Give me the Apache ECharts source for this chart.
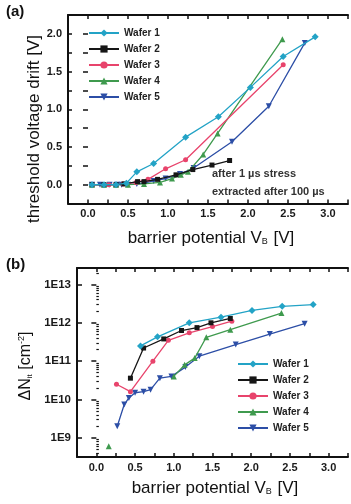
<!DOCTYPE html>
<html><head><meta charset="utf-8">
<script src="https://cdn.jsdelivr.net/npm/echarts@6/dist/echarts.min.js"></script>
<style>html,body{margin:0;padding:0;background:#fff}#c{width:351px;height:504px}</style>
</head><body><div id="c"></div>
<script>
// ---- shared ----
const waferNames = ['Wafer 1', 'Wafer 2', 'Wafer 3', 'Wafer 4', 'Wafer 5'];
const xTickLabels = ['0.0', '0.5', '1.0', '1.5', '2.0', '2.5', '3.0'];
const yTickLabelsA = ['0.0', '0.5', '1.0', '1.5', '2.0'];
const yTickLabelsB = ['1E9', '1E10', '1E11', '1E12', '1E13'];

// ---- panel (a): threshold voltage drift [V] vs barrier potential V_B [V] ----
const aVb1 = [0.05, 0.2, 0.35, 0.48, 0.61, 0.82, 1.22, 1.63, 2.03, 2.44, 2.84];
const aDrift1 = [0.0, 0.0, 0.0, 0.02, 0.17, 0.28, 0.63, 0.90, 1.29, 1.70, 1.96];
const aVb2 = [0.05, 0.2, 0.35, 0.45, 0.62, 0.70, 0.87, 1.10, 1.31, 1.55, 1.77];
const aDrift2 = [0.0, 0.0, 0.0, 0.01, 0.04, 0.04, 0.07, 0.13, 0.20, 0.26, 0.32];
const aVb3 = [0.05, 0.26, 0.44, 0.60, 0.75, 0.97, 1.22, 2.44];
const aDrift3 = [0.0, 0.0, 0.01, 0.03, 0.07, 0.21, 0.33, 1.59];
const aVb4 = [0.05, 0.2, 0.35, 0.5, 0.7, 0.9, 1.05, 1.16, 1.25, 1.44, 1.62, 2.43];
const aDrift4 = [0.0, 0.0, 0.0, 0.0, 0.01, 0.03, 0.08, 0.13, 0.17, 0.40, 0.68, 1.93];
const aVb5 = [0.05, 0.15, 0.27, 0.36, 0.42, 0.50, 0.61, 0.70, 0.82, 0.97, 1.15, 1.32, 1.80, 2.26, 2.71];
const aDrift5 = [0.0, 0.0, 0.0, 0.0, 0.0, 0.0, 0.01, 0.02, 0.05, 0.08, 0.14, 0.22, 0.57, 1.04, 1.88];

// ---- panel (b): ΔN_it [cm^-2] vs barrier potential V_B [V] ----
const bVb1 = [0.57, 0.79, 1.20, 1.61, 2.01, 2.40, 2.80];
const bN1 = [2.5e11, 4.3e11, 1.0e12, 1.4e12, 2.1e12, 2.7e12, 3.0e12];
const bVb2 = [0.44, 0.61, 0.87, 1.10, 1.30, 1.48, 1.73];
const bN2 = [3.6e10, 2.2e11, 3.8e11, 6.3e11, 7.5e11, 1.0e12, 1.3e12];
const bVb3 = [0.26, 0.44, 0.73, 0.93, 1.20, 1.50, 1.75];
const bN3 = [2.5e10, 1.6e10, 1.0e11, 3.5e11, 5.5e11, 8.0e11, 1.1e12];
const bVb4 = [0.16, null, 1.00, 1.14, 1.27, 1.42, 1.73, 2.39];
const bN4 = [6.0e8, null, 4.0e10, 8.0e10, 1.2e11, 4.2e11, 6.6e11, 1.8e12];
const bVb5 = [0.27, 0.36, 0.42, 0.50, 0.61, 0.70, 0.82, 0.97, 1.15, 1.33, 1.80, 2.24, 2.69];
const bN5 = [2.0e9, 7.4e9, 1.1e10, 1.5e10, 1.6e10, 1.8e10, 3.6e10, 4.0e10, 7.0e10, 1.35e11, 2.7e11, 5.1e11, 9.5e11];

const colors = ['#23a3c6', '#161616', '#e8446c', '#3f9a4e', '#2c4ea6'];
const symbols = ['diamond', 'rect', 'circle', 'triangle', 'triangle'];
const symbolRot = [0, 0, 0, 0, 180];
const symbolSizes = [7, 5, 5, 6, 6];

const aX = [aVb1, aVb2, aVb3, aVb4, aVb5];
const aY = [aDrift1, aDrift2, aDrift3, aDrift4, aDrift5];
const bX = [bVb1, bVb2, bVb3, bVb4, bVb5];
const bY = [bN1, bN2, bN3, bN4, bN5];

const FONT = 'Liberation Sans, Arial, sans-serif';
const labelStyle = { fontFamily: FONT, fontWeight: 'bold', fontSize: 11, color: '#1a1a1a' };

function xLabelFmt(v) {
  const i = xTickLabels.findIndex(t => Math.abs(parseFloat(t) - v) < 1e-6);
  return i >= 0 ? xTickLabels[i] : '';
}
function yLabelFmtA(v) {
  const i = yTickLabelsA.findIndex(t => Math.abs(parseFloat(t) - v) < 1e-6);
  return i >= 0 ? yTickLabelsA[i] : '';
}
const bMajor = yTickLabelsB.map(t => parseFloat(t.slice(2)));
const bMinor = [];
for (let e = 8; e <= 13; e++) for (let k = 2; k <= 9; k++) {
  const v = e + Math.log10(k);
  if (v > 8.5 && v < 13.43) bMinor.push(v);
}

const frame = { show: true, onZero: false, lineStyle: { color: '#111', width: 2 } };
function xAxisPair(gi) {
  return [
    { gridIndex: gi, type: 'value', min: -0.25, max: 3.25, interval: 0.25, axisLine: frame,
      axisTick: { inside: true, length: 4, lineStyle: { color: '#111', width: 1.5 } },
      axisLabel: Object.assign({ formatter: xLabelFmt, margin: 5, showMinLabel: true, showMaxLabel: true }, labelStyle),
      splitLine: { show: false } },
    { gridIndex: gi, type: 'value', position: 'top', min: -0.25, max: 3.25, interval: 0.25, axisLine: frame,
      axisTick: { inside: true, length: 4, lineStyle: { color: '#111', width: 1.5 } },
      axisLabel: { show: false }, splitLine: { show: false } }
  ];
}

const series = [];
for (let i = 0; i < 5; i++) {
  series.push({
    name: waferNames[i], type: 'line', xAxisIndex: 0, yAxisIndex: 0,
    data: aX[i].map((x, j) => [x, aY[i][j]]),
    color: colors[i], symbol: symbols[i], symbolRotate: symbolRot[i], symbolSize: symbolSizes[i],
    lineStyle: { width: 1.3 }, itemStyle: { color: colors[i] }, animation: false, z: 5 - i + 2
  });
}
for (let i = 0; i < 5; i++) {
  series.push({
    name: waferNames[i], type: 'line', xAxisIndex: 2, yAxisIndex: 2,
    data: bX[i].map((x, j) => (x === null ? ['-', '-'] : [x, Math.log10(bY[i][j])])),
    color: colors[i], symbol: symbols[i], symbolRotate: symbolRot[i], symbolSize: symbolSizes[i],
    lineStyle: { width: 1.3 }, itemStyle: { color: colors[i] }, animation: false, z: 5 - i + 2
  });
}

const legendCommon = {
  orient: 'vertical', itemWidth: 30, itemHeight: 9, itemGap: 6, padding: 0,
  selectedMode: false, data: waferNames,
  textStyle: { fontFamily: FONT, fontWeight: 'bold', fontSize: 10, color: '#222' }
};

const option = {
  backgroundColor: '#fff',
  animation: false,
  grid: [
    { left: 68, top: 15, width: 280, height: 188.5 },
    { left: 77, top: 268, width: 275.5, height: 189 }
  ],
  xAxis: [].concat(xAxisPair(0), xAxisPair(1)),
  yAxis: [
    { gridIndex: 0, type: 'value', min: -0.25, max: 2.25, interval: 0.25, axisLine: frame,
      axisTick: { inside: true, length: 4, lineStyle: { color: '#111', width: 1.5 } },
      axisLabel: Object.assign({ formatter: yLabelFmtA, margin: 6 }, labelStyle), splitLine: { show: false } },
    { gridIndex: 0, type: 'value', position: 'right', min: -0.25, max: 2.25, interval: 0.25,
      axisLine: { show: false }, axisTick: { inside: true, length: 5, lineStyle: { color: '#111', width: 1.5 } },
      axisLabel: { show: false }, splitLine: { show: false } },
    { gridIndex: 1, type: 'value', min: 8.5, max: 13.43, axisLine: frame,
      axisTick: { inside: true, length: 5, customValues: bMajor, lineStyle: { color: '#111', width: 1.5 } },
      axisLabel: Object.assign({ customValues: bMajor, formatter: v => '1E' + Math.round(v), margin: 6 }, labelStyle, { fontSize: 11.5 }),
      splitLine: { show: false } },
    { gridIndex: 1, type: 'value', min: 8.5, max: 13.43, position: 'left', axisLine: { show: false },
      axisTick: { inside: true, length: 2.5, customValues: bMinor, lineStyle: { color: '#111', width: 1.2 } },
      axisLabel: { show: false, customValues: bMinor }, splitLine: { show: false } },
    { gridIndex: 1, type: 'value', position: 'right', min: 8.5, max: 13.43, axisLine: { show: false },
      axisTick: { inside: true, length: 5, customValues: bMajor, lineStyle: { color: '#111', width: 1.5 } },
      axisLabel: { show: false, customValues: bMajor }, splitLine: { show: false } }
  ],
  legend: [
    Object.assign({ left: 88, top: 28 }, legendCommon),
    Object.assign({ left: 237, top: 359 }, legendCommon)
  ],
  graphic: [
    { type: 'text', left: 6, top: 4, style: { text: '(a)', font: 'bold 15px ' + FONT, fill: '#111' } },
    { type: 'text', left: 6, top: 257, style: { text: '(b)', font: 'bold 15px ' + FONT, fill: '#111' } },
    { type: 'text', x: 212, y: 174, style: { text: 'after 1 µs stress', font: 'bold 11px ' + FONT, fill: '#333', verticalAlign: 'middle' } },
    { type: 'text', x: 212, y: 192, style: { text: 'extracted after 100 µs', font: 'bold 11px ' + FONT, fill: '#333', verticalAlign: 'middle' } },
    { type: 'text', x: 34, y: 129, rotation: Math.PI / 2,
      style: { text: 'threshold voltage drift [V]', font: '17px ' + FONT, fill: '#111', align: 'center', verticalAlign: 'middle' } },
    { type: 'text', x: 211, y: 238,
      style: { text: 'barrier potential V{s|B} [V]', font: '17px ' + FONT, fill: '#111', align: 'center', verticalAlign: 'middle',
        rich: { s: { fontSize: 9, fontFamily: FONT, verticalAlign: 'bottom', padding: [8, 1, 0, 0] } } } },
    { type: 'text', x: 215, y: 488,
      style: { text: 'barrier potential V{s|B} [V]', font: '17px ' + FONT, fill: '#111', align: 'center', verticalAlign: 'middle',
        rich: { s: { fontSize: 9, fontFamily: FONT, verticalAlign: 'bottom', padding: [8, 1, 0, 0] } } } },
    { type: 'text', x: 26, y: 366, rotation: Math.PI / 2,
      style: { text: 'ΔN{s|it} [cm{p|-2}]', font: '16px ' + FONT, fill: '#111', align: 'center', verticalAlign: 'middle',
        rich: { s: { fontSize: 8, fontFamily: FONT, padding: [8, 0, 0, 0] }, p: { fontSize: 9, fontFamily: FONT, padding: [0, 0, 8, 0] } } } }
  ],
  series: series
};

const chart = echarts.init(document.getElementById('c'), null, { renderer: 'canvas' });
chart.setOption(option);
</script>
</body></html>
